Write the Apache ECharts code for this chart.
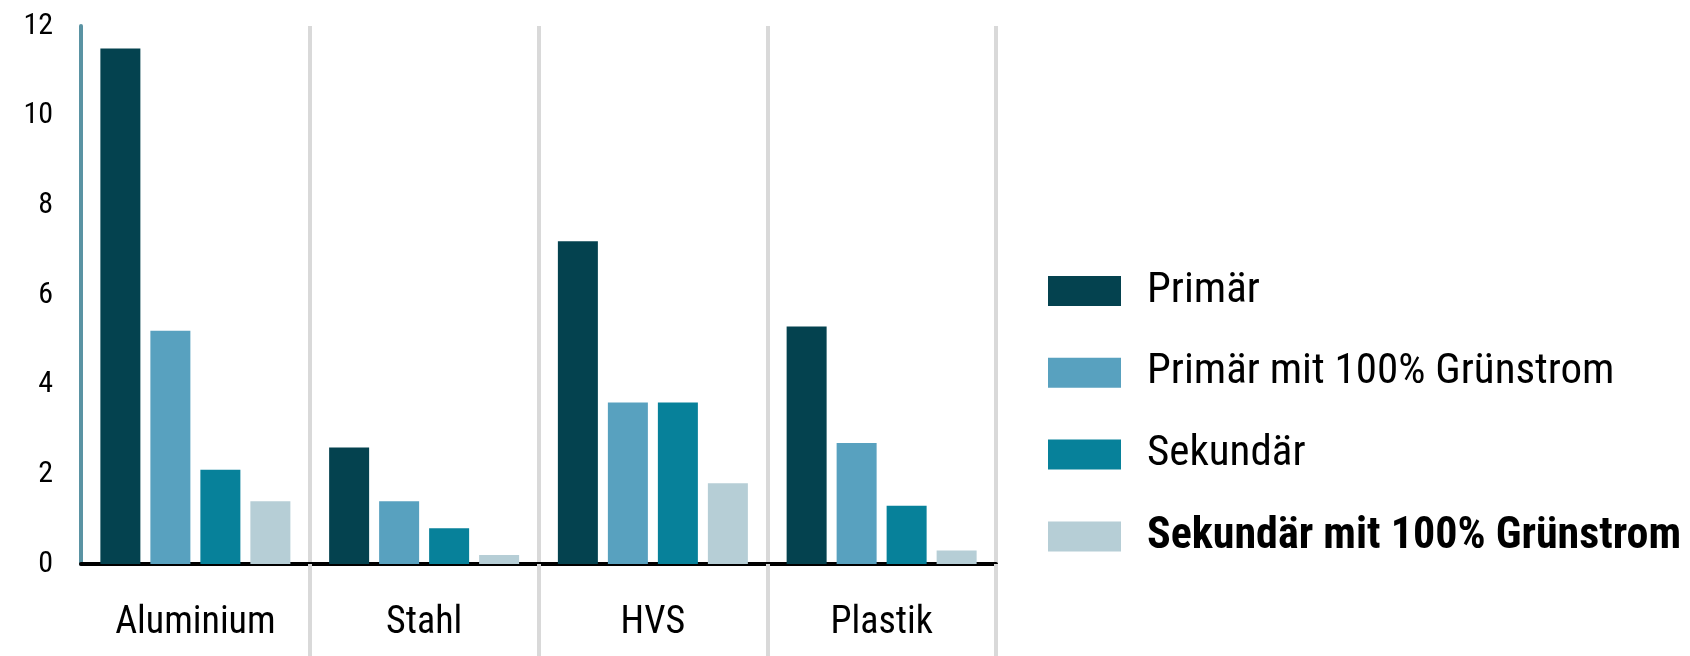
<!DOCTYPE html>
<html>
<head>
<meta charset="utf-8">
<script src="https://cdn.jsdelivr.net/npm/echarts@6/dist/echarts.min.js"></script>
<style>
  html, body { margin: 0; padding: 0; background: #ffffff; }
  #chart { width: 1690px; height: 656px; }
</style>
</head>
<body>
<div id="chart"></div>
<script>
// Materials on the category axis
const categories = ['Aluminium', 'Stahl', 'HVS', 'Plastik'];

// Series names
const seriesNames = ['Primär', 'Primär mit 100% Grünstrom', 'Sekundär', 'Sekundär mit 100% Grünstrom'];

// Series values per material
const primaer = [11.5, 2.6, 7.2, 5.3];
const primaerGruen = [5.2, 1.4, 3.6, 2.7];
const sekundaer = [2.1, 0.8, 3.6, 1.3];
const sekundaerGruen = [1.4, 0.2, 1.8, 0.3];

// Value axis ticks
const yMin = 0;
const yMax = 12;
const yStep = 2;

const colors = ['#04424f', '#58a1bf', '#07819a', '#b6ced6'];
// Roboto's width axis gives a condensed face; the stretch keyword rides along in the font shorthand
const FONT = 'Roboto, sans-serif';
const COND = 'condensed';
const COND_BOLD = 'bold condensed';
const separator = { color: '#d9d9d9', width: 4 };

const chart = echarts.init(document.getElementById('chart'), null, { renderer: 'canvas' });

const seriesValues = [primaer, primaerGruen, sekundaer, sekundaerGruen];

chart.setOption({
  animation: false,
  backgroundColor: '#ffffff',
  color: colors,
  grid: { left: 81, right: 694, top: 26, bottom: 92, containLabel: false },
  legend: {
    orient: 'vertical',
    left: 1048,
    top: 269.5,
    padding: 0,
    itemWidth: 73,
    itemHeight: 30,
    itemGap: 38.7,
    icon: 'rect',
    selectedMode: false,
    textStyle: {
      fontFamily: FONT,
      fontStyle: 'normal',
      fontWeight: COND,
      fontSize: 43,
      color: '#000000',
      padding: [0, 0, 0, 21]
    },
    data: seriesNames.map((n, i) => i === 3
      ? { name: n, textStyle: { fontWeight: COND_BOLD, fontSize: 44 } }
      : { name: n })
  },
  xAxis: {
    type: 'category',
    data: categories,
    boundaryGap: true,
    axisLine: { show: true, lineStyle: { color: '#000000', width: 4 } },
    axisTick: {
      show: true,
      length: 95,
      interval: (i) => i > 0,
      lineStyle: separator
    },
    splitLine: {
      show: true,
      interval: (i) => i > 0,
      lineStyle: separator
    },
    axisLabel: {
      interval: 0,
      fontFamily: FONT,
      fontStyle: 'normal',
      fontWeight: COND,
      fontSize: 38,
      color: '#000000',
      margin: 40
    }
  },
  yAxis: {
    type: 'value',
    min: yMin,
    max: yMax,
    interval: yStep,
    axisLine: { show: true, lineStyle: { color: '#5a93a3', width: 4 } },
    axisTick: { show: false },
    splitLine: { show: false },
    axisLabel: {
      fontFamily: FONT,
      fontStyle: 'normal',
      fontWeight: COND,
      fontSize: 30,
      color: '#000000',
      margin: 28
    }
  },
  series: seriesValues.map((vals, i) => ({
    name: seriesNames[i],
    type: 'bar',
    data: vals,
    barWidth: 40,
    barGap: '25%',
    itemStyle: { color: colors[i] }
  }))
});
</script>
</body>
</html>
